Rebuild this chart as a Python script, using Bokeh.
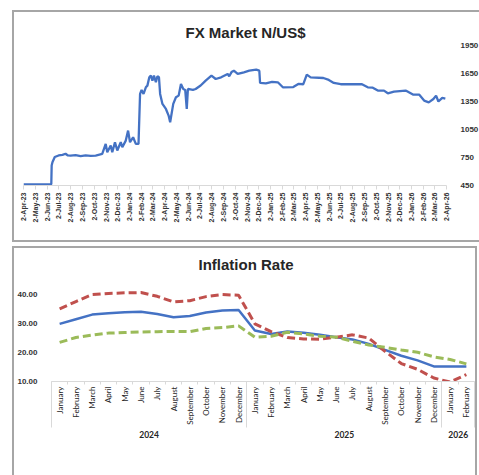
import pandas as pd
from math import pi
from bokeh.plotting import figure
from bokeh.models import (Range1d, FixedTicker, NumeralTickFormatter, LinearAxis,
                          Legend, LegendItem, ColumnDataSource)
from bokeh.embed import file_html
from bokeh.resources import INLINE

# ---------------- FX market data ----------------
fx_dates = [
    "2023-04-02", "2023-06-13", "2023-06-14", "2023-06-16", "2023-06-22", "2023-07-02",
    "2023-07-12", "2023-07-20", "2023-07-26", "2023-08-02", "2023-08-15", "2023-08-28",
    "2023-09-10", "2023-09-23", "2023-10-06", "2023-10-23", "2023-11-01", "2023-11-05",
    "2023-11-14", "2023-11-18", "2023-11-25", "2023-12-01", "2023-12-10", "2023-12-14",
    "2023-12-23", "2023-12-29", "2024-01-03", "2024-01-11", "2024-01-18", "2024-01-25",
    "2024-01-29", "2024-02-02", "2024-02-07", "2024-02-13", "2024-02-17", "2024-02-22",
    "2024-02-26", "2024-03-01", "2024-03-05", "2024-03-10", "2024-03-14", "2024-03-18",
    "2024-03-21", "2024-03-27", "2024-04-05", "2024-04-12", "2024-04-16", "2024-04-24",
    "2024-05-01", "2024-05-08", "2024-05-14", "2024-05-20", "2024-05-25", "2024-05-29",
    "2024-06-01", "2024-06-14", "2024-06-21", "2024-07-04", "2024-07-17", "2024-08-01",
    "2024-08-12", "2024-08-26", "2024-09-12", "2024-09-16", "2024-09-22", "2024-09-28",
    "2024-10-08", "2024-10-24", "2024-11-07", "2024-11-25", "2024-12-03", "2024-12-05",
    "2024-12-20", "2025-01-05", "2025-01-20", "2025-02-02", "2025-03-01", "2025-03-14",
    "2025-03-27", "2025-04-05", "2025-04-15", "2025-05-18", "2025-06-01", "2025-06-14",
    "2025-07-02", "2025-08-26", "2025-09-10", "2025-09-23", "2025-10-06", "2025-10-22",
    "2025-11-01", "2025-11-17", "2025-12-17", "2025-12-22", "2026-01-05", "2026-01-21",
    "2026-02-03", "2026-02-15", "2026-02-27", "2026-03-06", "2026-03-12", "2026-03-22",
    "2026-03-30",
]
fx_rates = [
    463, 463, 665, 700, 755, 772,
    778, 790, 772, 770, 775, 765,
    772, 768, 771, 789, 896, 806,
    878, 806, 914, 825, 914, 860,
    931, 1038, 914, 967, 896, 896,
    1431, 1474, 1431, 1502, 1520, 1609,
    1627, 1574, 1627, 1556, 1620, 1609,
    1431, 1324, 1270, 1199, 1127, 1324,
    1395, 1413, 1538, 1484, 1474, 1270,
    1484, 1474, 1484, 1521, 1574, 1627,
    1591, 1609, 1645, 1620, 1665, 1680,
    1645, 1663, 1680, 1691, 1680, 1549,
    1545, 1560, 1556, 1502, 1505, 1538,
    1535, 1638, 1609, 1602, 1581, 1549,
    1535, 1535, 1502, 1498, 1467, 1467,
    1438, 1456, 1467, 1456, 1424, 1424,
    1360, 1341, 1377, 1413, 1350, 1388,
    1380,
]
fx_tick_labels = [
    "2-Apr-23", "2-May-23", "2-Jun-23", "2-Jul-23", "2-Aug-23", "2-Sep-23", "2-Oct-23",
    "2-Nov-23", "2-Dec-23", "2-Jan-24", "2-Feb-24", "2-Mar-24", "2-Apr-24", "2-May-24",
    "2-Jun-24", "2-Jul-24", "2-Aug-24", "2-Sep-24", "2-Oct-24", "2-Nov-24", "2-Dec-24",
    "2-Jan-25", "2-Feb-25", "2-Mar-25", "2-Apr-25", "2-May-25", "2-Jun-25", "2-Jul-25",
    "2-Aug-25", "2-Sep-25", "2-Oct-25", "2-Nov-25", "2-Dec-25", "2-Jan-26", "2-Feb-26",
    "2-Mar-26", "2-Apr-26",
]
fx_y_ticks = [450, 750, 1050, 1350, 1650, 1950]

# ---------------- Inflation data ----------------
years = ["2024"] * 12 + ["2025"] * 12 + ["2026"] * 2
months = ["January", "February", "March", "April", "May", "June", "July", "August",
          "September", "October", "November", "December"] * 2 + ["January", "February"]
headline = [29.9, 31.5, 33.1, 33.6, 33.9, 34.1, 33.3, 32.2, 32.6, 33.8, 34.5, 34.7,
            27.6, 26.4, 27.3, 26.8, 26.1, 25.3, 24.5, 23.0, 20.9, 18.9, 17.3, 15.2,
            15.2, 15.2]
food = [35.1, 37.6, 40.0, 40.4, 40.6, 40.7, 39.4, 37.5, 37.9, 39.3, 40.0, 39.8,
        29.9, 27.2, 25.2, 24.7, 24.6, 25.3, 26.1, 25.0, 20.4, 16.2, 14.2, 11.2,
        9.8, 12.4]
core = [23.5, 25.2, 26.0, 26.7, 26.9, 27.1, 27.2, 27.3, 27.2, 28.3, 28.6, 29.2,
        25.3, 25.6, 27.0, 26.4, 25.6, 25.3, 23.9, 22.6, 21.8, 20.9, 20.1, 18.5,
        17.6, 16.1]
infl_y_ticks = [10, 20, 30, 40]

BLUE = "#4472C4"
RED = "#C0504D"
GREEN = "#9BBB59"
AXIS_GREY = "#d9d9d9"
TXT = "#262626"
BOX = {"border": "2px solid #a6a6a6"}

# ================= Top chart =================
start = pd.Timestamp("2023-04-02")
fx_x = [(pd.Timestamp(d) - start).days for d in fx_dates]
tick_pos = [int((pd.to_datetime(t, format="%d-%b-%y") - start).days) for t in fx_tick_labels]

p1 = figure(frame_width=423, frame_height=140, x_range=Range1d(0, tick_pos[-1]),
            y_range=Range1d(450, 1950), y_axis_location="right",
            output_backend="svg", toolbar_location=None,
            min_border_left=9, min_border_right=29, min_border_top=33, min_border_bottom=55,
            margin=(10, 0, 0, 12), styles=BOX)
p1.line(fx_x, fx_rates, line_color=BLUE, line_width=2.3)

p1.title.text = "FX Market N/US$"
p1.title.text_font = "Liberation Sans"
p1.title.text_font_size = "15px"
p1.title.text_font_style = "bold"
p1.title.text_color = TXT
p1.title.align = "left"
p1.title.offset = 162

p1.xgrid.visible = False
p1.ygrid.visible = False
p1.outline_line_color = None

xa = p1.xaxis[0]
xa.ticker = FixedTicker(ticks=tick_pos)
xa.major_label_overrides = {tp: lab for tp, lab in zip(tick_pos, fx_tick_labels)}
xa.major_label_orientation = pi / 2
xa.major_label_text_font = "Liberation Sans"
xa.major_label_text_font_size = "7px"
xa.major_label_text_font_style = "bold"
xa.major_label_text_color = "#333333"
xa.major_label_standoff = 3
xa.axis_line_color = AXIS_GREY
xa.major_tick_line_color = AXIS_GREY
xa.major_tick_in = 0
xa.major_tick_out = 4
xa.minor_tick_line_color = None

ya = p1.yaxis[0]
ya.ticker = FixedTicker(ticks=fx_y_ticks)
ya.axis_line_color = None
ya.major_tick_line_color = None
ya.minor_tick_line_color = None
ya.major_label_text_font = "Liberation Sans"
ya.major_label_text_font_size = "8px"
ya.major_label_text_font_style = "bold"
ya.major_label_text_color = "#333333"
ya.major_label_standoff = 8

# ================= Bottom chart =================
idx = list(range(len(months)))
src = ColumnDataSource(dict(x=idx, headline=headline, food=food, core=core))

year_names = sorted(set(years))
year_centers = [sum(i for i, y in enumerate(years) if y == yn) / years.count(yn) for yn in year_names]
year_bounds = [-0.5] + [i + 0.5 for i in range(len(years) - 1) if years[i] != years[i + 1]] + [len(years) - 0.5]

p2 = figure(frame_width=423, frame_height=104,
            x_range=Range1d(-0.5, len(months) - 0.5), y_range=Range1d(10, 45.9),
            y_axis_location="right",
            output_backend="svg", toolbar_location=None,
            min_border_left=36, min_border_right=1, min_border_top=27, min_border_bottom=0,
            margin=(4, 0, 0, 12), styles=BOX)

r_head = p2.line("x", "headline", source=src, line_color=BLUE, line_width=2.5)
r_food = p2.line("x", "food", source=src, line_color=RED, line_width=3, line_dash="8 4")
r_core = p2.line("x", "core", source=src, line_color=GREEN, line_width=3, line_dash="8 4")

p2.title.text = "Inflation Rate"
p2.title.text_font = "Liberation Sans"
p2.title.text_font_size = "15px"
p2.title.text_font_style = "bold"
p2.title.text_color = TXT
p2.title.align = "left"
p2.title.offset = 147

p2.xgrid.visible = False
p2.ygrid.visible = False
p2.outline_line_color = None

mx = p2.xaxis[0]
mx.ticker = FixedTicker(ticks=idx, minor_ticks=[i - 0.5 for i in range(len(months) + 1)])
mx.major_label_overrides = {i: m for i, m in zip(idx, months)}
mx.major_label_orientation = pi / 2
mx.major_label_text_font = "Lato"
mx.major_label_text_font_size = "8px"
mx.major_label_text_color = TXT
mx.major_label_standoff = 2
mx.axis_line_color = AXIS_GREY
mx.major_tick_line_color = None
mx.major_tick_out = 0
mx.major_tick_in = 0
mx.minor_tick_line_color = AXIS_GREY
mx.minor_tick_in = 0
mx.minor_tick_out = 3

yx = LinearAxis(ticker=FixedTicker(ticks=year_centers, minor_ticks=year_bounds),
                major_label_overrides={c: y for c, y in zip(year_centers, year_names)})
yx.axis_line_color = None
yx.major_tick_line_color = None
yx.major_tick_in = 0
yx.major_tick_out = 0
yx.minor_tick_line_color = AXIS_GREY
yx.minor_tick_line_width = 1
yx.minor_tick_in = 46
yx.minor_tick_out = 0
yx.major_label_text_font = "Lato"
yx.major_label_text_font_size = "8.5px"
yx.major_label_text_font_style = "bold"
yx.major_label_text_color = TXT
yx.major_label_standoff = 3
p2.add_layout(yx, "below")

cy = LinearAxis(ticker=FixedTicker(ticks=infl_y_ticks),
                formatter=NumeralTickFormatter(format="0.00"))
cy.axis_line_color = None
cy.major_tick_line_color = None
cy.minor_tick_line_color = None
cy.major_label_text_font = "Liberation Sans"
cy.major_label_text_font_size = "8px"
cy.major_label_text_font_style = "bold"
cy.major_label_text_color = "#333333"
cy.major_label_standoff = 8
p2.add_layout(cy, "left")
p2.right[0].visible = False

legend = Legend(items=[LegendItem(label="Headline", renderers=[r_head]),
                       LegendItem(label="Food Inflation", renderers=[r_food]),
                       LegendItem(label="Core Inflation", renderers=[r_core])],
                orientation="horizontal", location="center",
                label_text_font="Lato", label_text_font_size="8.5px",
                label_text_font_style="bold", label_text_color=TXT,
                glyph_width=27, glyph_height=10, label_height=10,
                label_standoff=4, spacing=37,
                padding=0, margin=0, border_line_color=None, background_fill_alpha=0)
p2.add_layout(legend, "below")

open("out.html", "w").write(file_html([p1, p2], INLINE))
